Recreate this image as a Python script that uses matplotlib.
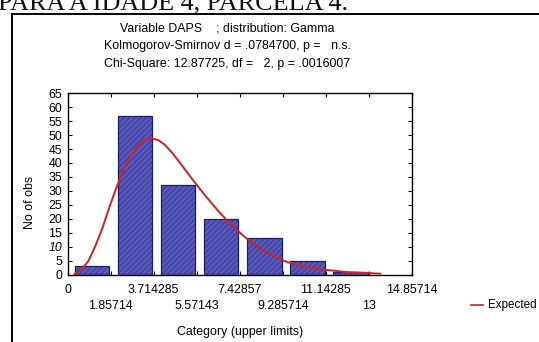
import matplotlib
matplotlib.use("Agg")
import matplotlib.pyplot as plt
from matplotlib.lines import Line2D

# Histogram of DAPS with fitted gamma curve
bin_edges = [0.0, 1.857143, 3.714285, 5.571428, 7.428571, 9.285714, 11.142857, 13.0, 14.857143]
counts = [3, 57, 32, 20, 13, 5, 1]

major_ticks = [0.0, 3.714285, 7.428571, 11.142857, 14.857143]
major_labels = ["0", "3.714285", "7.42857", "11.14285", "14.85714"]
minor_ticks = [1.857143, 5.571428, 9.285714, 13.0]
minor_labels = ["1.85714", "5.57143", "9.285714", "13"]

y_ticks = [0, 5, 10, 15, 20, 25, 30, 35, 40, 45, 50, 55, 60, 65]

# expected frequencies (gamma fit)
expected_x = [0.3, 0.6, 0.9, 1.2, 1.5, 1.8, 2.1, 2.4, 2.7, 3.0, 3.3, 3.6, 3.9, 4.2,
              4.5, 4.8, 5.1, 5.4, 5.7, 6.0, 6.5, 7.0, 7.5, 8.0, 8.5, 9.0, 9.5,
              10.0, 11.0, 12.0, 13.0, 13.5]
expected_y = [0.2, 1.8, 4.8, 10.2, 16.5, 24.0, 31.0, 37.2, 42.3, 45.8, 48.0, 48.8,
              48.3, 46.5, 43.8, 40.6, 37.3, 34.0, 30.8, 27.7, 22.8, 18.3, 14.5,
              11.1, 8.3, 6.0, 4.4, 3.2, 1.8, 0.9, 0.5, 0.3]

title_lines = ["Variable DAPS    ; distribution: Gamma",
               "Kolmogorov-Smirnov d = .0784700, p =   n.s.",
               "Chi-Square: 12.87725, df =   2, p = .0016007"]

plt.rcParams['font.family'] = ['Liberation Sans', 'DejaVu Sans']
plt.rcParams['hatch.linewidth'] = 0.6

FS = 8.9

fig = plt.figure(figsize=(5.39, 3.42), dpi=100)
fig.patch.set_facecolor('white')

# page heading (partly above the frame)
fig.text(-0.004, 0.972, "PARA A IDADE 4, PARCELA 4.", family='Liberation Serif',
         fontsize=18.8, ha='left', va='baseline', color='#111111')

# outer frame of the graph window
fig.add_artist(Line2D([12.5/539, 12.5/539], [0, 1 - 13.5/342], transform=fig.transFigure,
                      color='black', lw=1.4))
fig.add_artist(Line2D([12.5/539, 1.0], [1 - 13.5/342, 1 - 13.5/342], transform=fig.transFigure,
                      color='black', lw=1.4))

for i, line in enumerate(title_lines):
    fig.text(227/539, 1 - (28.5 + 18*i)/342, line, ha='center', va='center', fontsize=FS)

ax = fig.add_axes([67.5/539, 1 - 274.5/342, (412 - 67.5)/539, (274.5 - 93.3)/342])

lefts = bin_edges[:-1]
widths = [bin_edges[i + 1] - bin_edges[i] for i in range(len(counts))]
bar_left = [l + 0.17*w for l, w in zip(lefts, widths)]
bar_w = [0.80*w for w in widths]

ax.bar(bar_left, counts, width=bar_w, align='edge', color='#4848ac', edgecolor='none', zorder=2)
ax.bar(bar_left, counts, width=bar_w, align='edge', facecolor='none', edgecolor='#6e6ec8',
       hatch='//////', linewidth=0, zorder=2.1)
ax.bar(bar_left, counts, width=bar_w, align='edge', facecolor='none', edgecolor='#1e1e66',
       linewidth=0.9, zorder=2.2)

ax.plot(expected_x, expected_y, color='#cc2222', lw=1.4, zorder=3)

ax.set_xlim(bin_edges[0], bin_edges[-1])
ax.set_ylim(0, 65)

ax.set_xticks(major_ticks)
ax.set_xticklabels(major_labels)
ax.set_xticks(minor_ticks, minor=True)
ax.set_xticklabels(minor_labels, minor=True)
ax.set_yticks(y_ticks)
ax.set_yticklabels([str(v) for v in y_ticks])
for lab in ax.get_yticklabels():
    if lab.get_text() == "10":
        lab.set_style('italic')

ax.tick_params(axis='both', which='both', direction='in', length=3, width=0.8,
               top=True, right=True, labelsize=FS, colors='black')
ax.tick_params(axis='x', which='major', pad=6.5)
ax.tick_params(axis='x', which='minor', pad=18.5)
ax.tick_params(axis='y', which='major', pad=4)

for s in ax.spines.values():
    s.set_linewidth(1.0)
    s.set_color('black')

ax.set_ylabel("No of obs", fontsize=FS)
ax.yaxis.set_label_coords(-0.092, 0.397)
fig.text(240/539, 1 - 332/342, "Category (upper limits)", ha='center', va='center', fontsize=FS)

# legend entry
fig.add_artist(Line2D([471/539, 483/539], [1 - 305/342, 1 - 305/342], transform=fig.transFigure,
                      color='#cc2222', lw=1.2))
fig.text(488/539, 1 - 305/342, "Expected", ha='left', va='center', fontsize=8.4)

fig.savefig("out.png", dpi=100, facecolor='white')
